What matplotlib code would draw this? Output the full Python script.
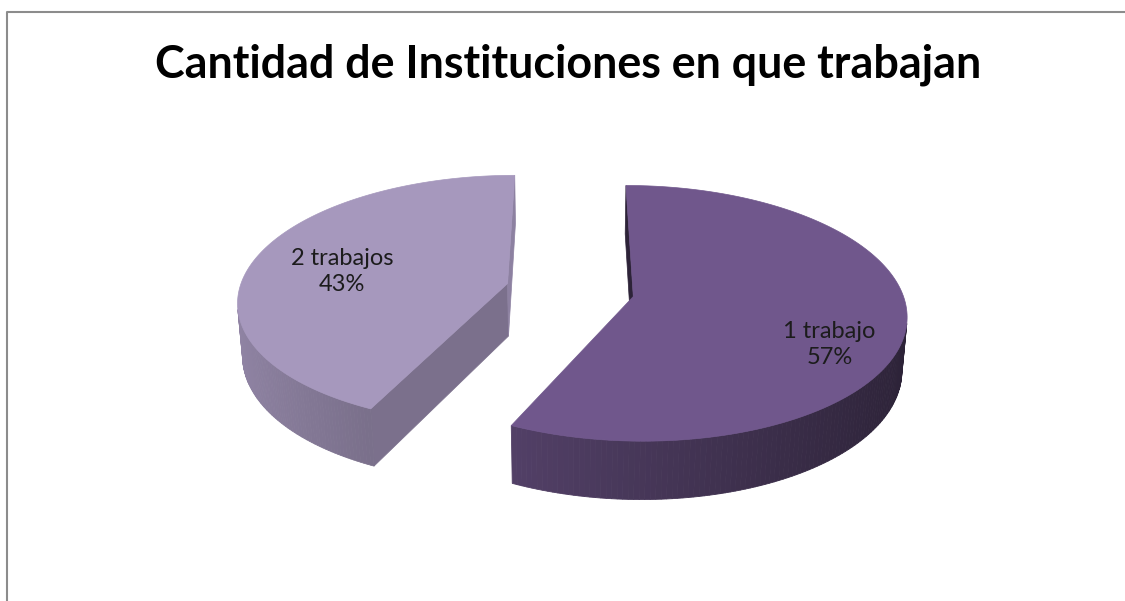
import numpy as np
import matplotlib
matplotlib.use('Agg')
import matplotlib.pyplot as plt
from matplotlib.patches import Polygon
from matplotlib.colors import to_rgb

TITLE = 'Cantidad de Instituciones en que trabajan'
labels = ['1 trabajo', '2 trabajos']
values = [57, 43]
slice_colors = ['#70578C', '#A698BD']

# label anchor (angle clockwise from top, radius) on the top face
label_anchor = [(118, 0.77), (279, 0.64)]

# fake 3D view, screen in pixels
W, H = 1125, 601
CX, CY = 570, 290
FOCAL = 1825.0
DIST = 6.8
ELEV = np.radians(27.5)
THICK = 0.225
EXPLODE = 0.24

cam = np.array([0.0, -DIST * np.cos(ELEV), DIST * np.sin(ELEV)])


def project(p):
    u, v, z = p
    depth = DIST + v * np.cos(ELEV) - z * np.sin(ELEV)
    yc = v * np.sin(ELEV) + z * np.cos(ELEV)
    return CX + FOCAL * u / depth, CY - FOCAL * yc / depth


def shade(color, f):
    return tuple(min(1.0, c * f) for c in to_rgb(color))


def rim(off, th, r=1.0, z=0.0):
    t = np.radians(th)
    return np.array([off[0] + r * np.sin(t), off[1] + r * np.cos(t), z])


def facing(normal, point):
    return np.dot(normal, cam - point) > 0


fig = plt.figure(figsize=(W / 100, H / 100), dpi=100)
ax = fig.add_axes([0, 0, 1, 1])
ax.set_xlim(0, W)
ax.set_ylim(H, 0)
ax.axis('off')

# chart frame: only the left and top edges fall inside the picture
ax.plot([6.5, 6.5, W + 20], [H + 20, 11.5, 11.5], color='#8c8c8c', lw=1.5)

fracs = np.array(values) / sum(values)
ends = np.cumsum(fracs) * 360
starts = ends - fracs * 360

slices = []
for i in range(len(values)):
    a0, a1 = starts[i], ends[i]
    mid = np.radians((a0 + a1) / 2)
    off = np.array([EXPLODE * np.sin(mid), EXPLODE * np.cos(mid), 0.0])
    slices.append((off[1], i, a0, a1, off))

# farthest slice first
for _, i, a0, a1, off in sorted(slices, reverse=True):
    col = slice_colors[i]
    apex_t = off.copy()
    apex_b = off + np.array([0, 0, -THICK])

    # radial cut faces
    for th, sgn in ((a0, -1), (a1, 1)):
        t = np.radians(th)
        n = sgn * np.array([np.cos(t), -np.sin(t), 0.0])
        e_t = rim(off, th)
        e_b = rim(off, th, z=-THICK)
        centre = (apex_t + e_t) / 2 + np.array([0, 0, -THICK / 2])
        if facing(n, centre):
            f = 0.625 + 0.225 * n[0] + 0.21 * n[1]
            pts = [project(p) for p in (apex_t, e_t, e_b, apex_b)]
            ax.add_patch(Polygon(pts, closed=True, facecolor=shade(col, f),
                                 edgecolor=shade(col, f), lw=0.5))

    # outer curved side
    ths = np.linspace(a0, a1, 200)
    for ta, tb in zip(ths[:-1], ths[1:]):
        tm = np.radians((ta + tb) / 2)
        n = np.array([np.sin(tm), np.cos(tm), 0.0])
        pm = off + n + np.array([0, 0, -THICK / 2])
        if not facing(n, pm):
            continue
        f = 0.63 - 0.24 * n[0]
        pts = [project(rim(off, ta)), project(rim(off, tb)),
               project(rim(off, tb, z=-THICK)), project(rim(off, ta, z=-THICK))]
        ax.add_patch(Polygon(pts, closed=True, facecolor=shade(col, f),
                             edgecolor=shade(col, f), lw=0.6))

    # top face
    pts = [project(apex_t)] + [project(rim(off, th)) for th in ths]
    ax.add_patch(Polygon(pts, closed=True, facecolor=col, edgecolor=col, lw=0.5))

    # data label
    la, lr = label_anchor[i]
    lx, ly = project(rim(off, la, r=lr))
    ax.text(lx, ly, f'{labels[i]}\n{values[i]}%', ha='center', va='center',
            fontsize=17, family='Lato', color='#1c1c1c', linespacing=1.3)

title = ax.text(568, 77, TITLE, ha='center', va='baseline', fontsize=30,
                family='Lato', fontweight='bold', color='black')

# fit title to reference width
fig.canvas.draw()
bb = title.get_window_extent()
title.set_fontsize(30 * 827 / bb.width)

fig.savefig('out.png', dpi=100)
